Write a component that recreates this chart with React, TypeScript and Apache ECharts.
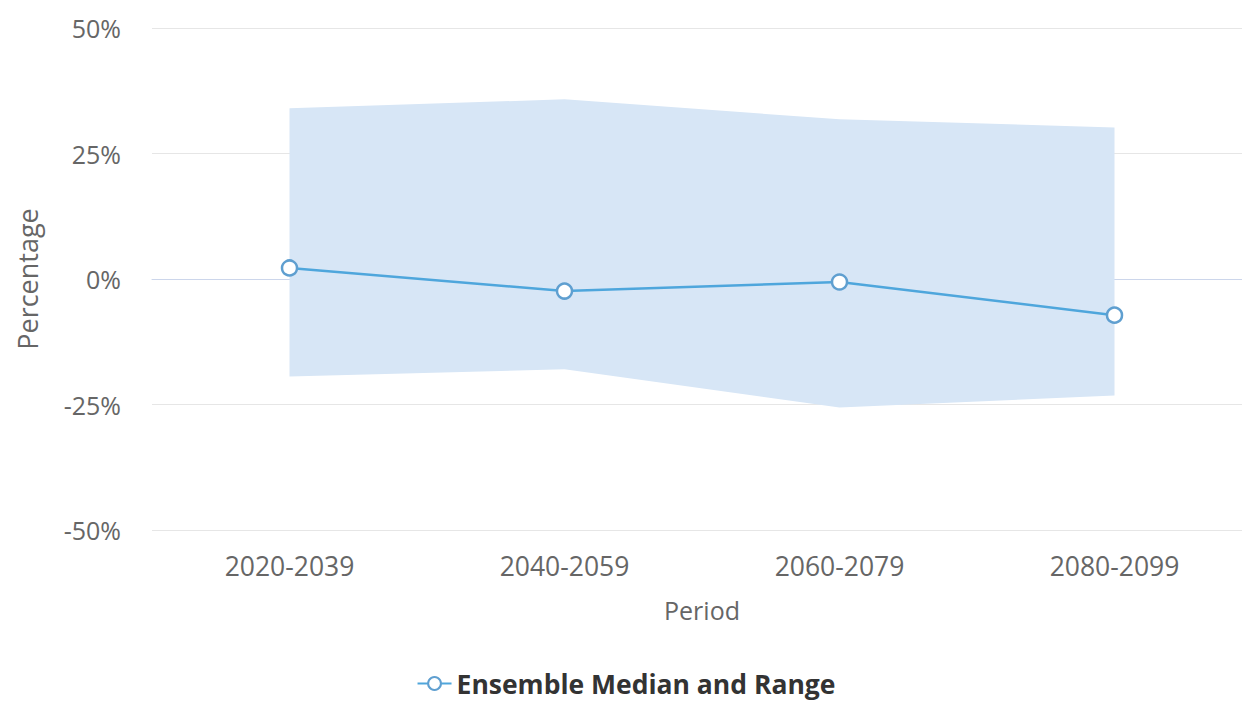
import React, { useEffect, useRef } from "react";
import * as echarts from "echarts";

const periods = ["2020-2039", "2040-2059", "2060-2079", "2080-2099"];
const medianValues = [2.2, -2.4, -0.6, -7.2];
const rangeLow = [-19.4, -18.0, -25.6, -23.2];
const rangeHigh = [34.0, 35.8, 31.8, 30.2];
const yTicks = { min: -50, max: 50, interval: 25 };

export default function App() {
  const ref = useRef<HTMLDivElement>(null);
  useEffect(() => {
    if (!ref.current) return;
    const chart = echarts.init(ref.current, undefined, { renderer: "svg" });
    const spread = rangeHigh.map((h, i) => +(h - rangeLow[i]).toFixed(2));
    const font = "'Open Sans', 'Noto Sans', sans-serif";
    chart.setOption({
      animation: false,
      textStyle: { fontFamily: font },
      grid: { left: 152, top: 28, right: 0, height: 502, containLabel: false },
      legend: {
        bottom: 6,
        left: "center",
        data: ["Ensemble Median and Range"],
        itemWidth: 34,
        itemHeight: 16,
        itemGap: 8,
        textStyle: { fontSize: 26.5, fontWeight: "bold", color: "#333", fontFamily: font },
      },
      xAxis: {
        type: "category",
        data: periods,
        boundaryGap: true,
        name: "Period",
        nameLocation: "middle",
        nameGap: 67,
        nameTextStyle: { fontSize: 25, color: "#666", fontFamily: font },
        axisLine: { lineStyle: { color: "#ccd6eb", width: 1 } },
        axisTick: { show: false },
        axisLabel: { fontSize: 26.5, color: "#666", margin: 22, fontFamily: font },
      },
      yAxis: {
        type: "value",
        min: yTicks.min,
        max: yTicks.max,
        interval: yTicks.interval,
        name: "Percentage",
        nameLocation: "middle",
        nameGap: 111,
        nameTextStyle: { fontSize: 27, color: "#666", fontFamily: font },
        axisLine: { show: false },
        axisTick: { show: false },
        splitLine: { lineStyle: { color: "#e6e6e6", width: 1 } },
        axisLabel: { fontSize: 25, color: "#666", margin: 31, formatter: "{value}%", fontFamily: font },
      },
      series: [
        {
          name: "rangeBase",
          type: "line",
          data: rangeLow,
          stack: "range",
          stackStrategy: "all",
          symbol: "none",
          lineStyle: { opacity: 0 },
          silent: true,
          z: 1,
        },
        {
          name: "rangeSpread",
          type: "line",
          data: spread,
          stack: "range",
          stackStrategy: "all",
          symbol: "none",
          lineStyle: { opacity: 0 },
          areaStyle: { color: "#d7e6f6", opacity: 1 },
          silent: true,
          z: 1,
        },
        {
          name: "Ensemble Median and Range",
          type: "line",
          data: medianValues,
          symbol: "circle",
          symbolSize: 15,
          color: "#4ea6dc",
          lineStyle: { color: "#4ea6dc", width: 2.5 },
          itemStyle: { color: "#ffffff", borderColor: "#5f9fd0", borderWidth: 2.5 },
          z: 3,
        },
      ],
    });
    return () => chart.dispose();
  }, []);
  return (
    <div
      ref={ref}
      style={{ position: "fixed", left: 0, top: 0, width: 1252, height: 708, background: "#fff" }}
    />
  );
}
